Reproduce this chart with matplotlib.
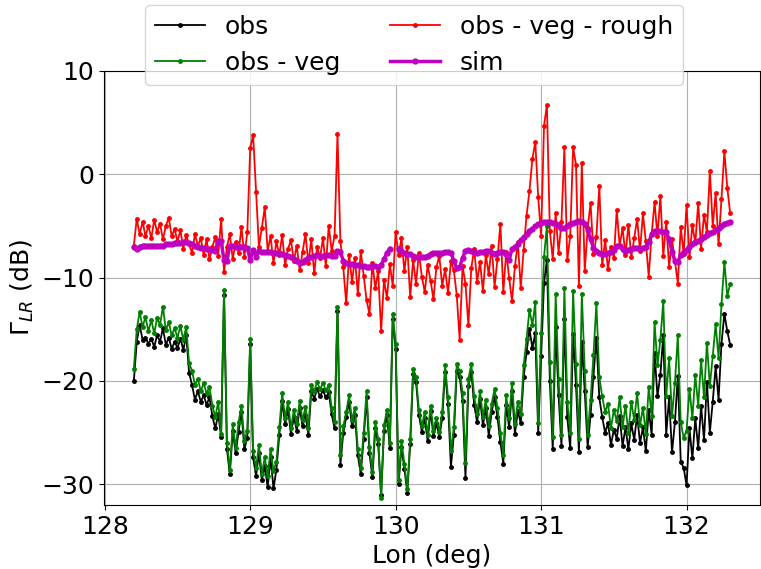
import numpy as np
import matplotlib.pyplot as plt

# longitude samples along the track
lon = np.linspace(128.20, 132.30, 206)

obs = [
    -20.0, -16.2, -14.6, -16.0, -15.8,
    -16.4, -15.9, -16.7, -15.6, -16.2,
    -14.9, -16.5, -15.8, -16.9, -16.2,
    -16.8, -15.9, -17.0, -15.6, -19.2,
    -20.4, -21.8, -21.0, -22.0, -21.4,
    -22.3, -21.6, -23.4, -24.6, -23.2,
    -25.4, -11.7, -26.6, -29.0, -24.8,
    -27.0, -24.9, -23.0, -26.6, -25.5,
    -16.4, -27.4, -29.2, -27.0, -29.6,
    -28.2, -30.3, -27.4, -30.4, -28.6,
    -25.2, -21.9, -24.2, -22.7, -25.1,
    -23.5, -24.8, -22.6, -24.4, -23.3,
    -25.2, -21.0, -21.7, -20.8, -21.5,
    -20.9, -21.6, -21.1, -23.2, -24.6,
    -13.2, -28.1, -25.0, -23.5, -22.0,
    -24.4, -23.3, -27.2, -29.0, -25.6,
    -21.6, -27.0, -29.3, -24.6, -26.1,
    -31.0, -24.8, -23.3, -26.5, -14.0,
    -16.9, -30.0, -26.4, -28.5, -30.8,
    -26.1, -19.3, -20.1, -23.3, -24.9,
    -23.6, -25.8, -22.9, -25.3, -24.1,
    -25.4, -23.6, -19.1, -22.2, -28.3,
    -25.2, -19.0, -19.6, -21.9, -29.4,
    -20.5, -19.1, -22.3, -24.0, -21.7,
    -24.3, -22.6, -25.3, -23.0, -21.6,
    -23.5, -25.9, -28.0, -22.3, -24.5,
    -21.0, -25.1, -22.9, -24.1, -19.6,
    -17.2, -15.0, -16.8, -15.4, -25.0,
    -17.6, -10.5, -8.3, -20.0, -26.6,
    -14.8, -21.4, -26.3, -14.0, -23.5,
    -26.5, -15.5, -20.4, -26.9, -16.2,
    -21.0, -26.4, -23.3, -19.6, -15.8,
    -21.6, -23.5, -25.0, -24.1, -26.2,
    -24.7, -25.6, -23.4, -26.3, -24.5,
    -26.6, -24.1, -25.7, -23.3, -26.0,
    -24.5, -26.8, -22.8, -25.2, -17.3,
    -21.5, -19.4, -15.6, -25.2, -21.6,
    -26.9, -24.0, -19.5, -27.8, -28.4,
    -30.1, -24.6, -27.5, -23.6, -26.5,
    -22.4, -25.7, -20.1, -25.0, -22.0,
    -18.6, -21.8, -16.4, -13.5, -15.2,
    -16.5,
]

obs_veg = [
    -18.8, -15.0, -13.3, -14.8, -13.8,
    -15.2, -14.1, -15.4, -13.9, -14.6,
    -12.8, -15.1, -14.3, -15.6, -14.9,
    -15.8, -14.7, -16.0, -14.8, -18.3,
    -19.0, -20.4, -19.8, -21.0, -20.2,
    -21.2, -20.6, -22.4, -23.5, -22.0,
    -25.1, -11.2, -26.0, -28.6, -24.2,
    -26.5, -24.0, -22.4, -25.8, -24.8,
    -15.9, -26.8, -28.4, -26.2, -29.0,
    -27.4, -29.2, -26.6, -28.7, -27.8,
    -24.5, -21.2, -23.6, -22.0, -24.6,
    -22.8, -24.2, -21.9, -23.8, -22.5,
    -24.6, -20.4, -21.0, -20.1, -20.8,
    -20.2, -20.9, -20.4, -22.6, -24.0,
    -12.8, -27.2, -24.4, -23.0, -21.4,
    -23.8, -22.6, -26.6, -28.4, -25.0,
    -21.0, -26.4, -28.8, -24.0, -25.6,
    -31.3, -24.3, -22.8, -26.0, -13.5,
    -16.4, -29.6, -25.8, -28.0, -30.5,
    -25.6, -18.8, -19.6, -22.8, -24.4,
    -23.0, -25.2, -22.4, -24.8, -23.6,
    -24.9, -23.0, -18.5, -21.6, -26.8,
    -24.5, -18.4, -19.0, -21.2, -27.9,
    -19.8, -18.4, -21.5, -23.2, -21.0,
    -23.5, -21.8, -24.4, -22.2, -20.8,
    -22.6, -25.0, -27.2, -21.4, -23.6,
    -20.2, -24.2, -22.0, -23.2, -18.5,
    -15.9, -13.1, -14.6, -12.4, -24.1,
    -15.4, -8.0, -5.0, -18.2, -25.4,
    -11.6, -19.8, -25.2, -11.0, -22.0,
    -25.0, -11.3, -18.4, -25.6, -11.6,
    -19.0, -25.2, -21.8, -17.5, -12.5,
    -19.6, -21.5, -23.0, -22.2, -24.6,
    -22.8, -23.9, -21.6, -24.5, -22.4,
    -25.0, -22.0, -23.8, -21.2, -24.3,
    -22.6, -25.1, -20.6, -23.4, -14.3,
    -18.5, -16.0, -12.3, -21.5, -17.8,
    -23.4, -20.2, -15.6, -24.0, -25.5,
    -24.8, -20.8, -23.6, -19.4, -22.4,
    -18.0, -21.6, -16.3, -20.5, -17.6,
    -14.5, -17.8, -12.6, -8.5, -11.8,
    -10.6,
]

obs_veg_rough = [
    -6.9, -4.3, -5.8, -4.6, -6.0,
    -5.0, -6.2, -4.4, -5.6, -4.8,
    -6.3, -5.0, -4.2, -6.0, -5.3,
    -6.5, -5.4, -7.2, -5.9, -6.8,
    -7.6, -5.8, -6.9, -6.2, -7.8,
    -6.3, -8.2, -7.0, -6.1, -7.9,
    -4.3, -9.5, -7.0, -5.8, -8.2,
    -6.6, -7.6, -5.1, -8.0, -5.6,
    2.5, 3.8, -1.7, -7.0, -5.2,
    -3.2, -7.4, -6.0, -8.6, -6.5,
    -7.8, -5.9, -8.8, -7.2, -6.4,
    -8.4, -6.9, -9.3, -7.5, -5.8,
    -8.6, -6.3, -9.6, -7.0, -8.1,
    -6.2, -8.9, -5.0, -7.4, -6.0,
    3.9, -6.5, -9.0, -12.5, -7.8,
    -10.4, -8.1, -11.6, -7.4, -9.8,
    -12.2, -13.5, -8.6, -11.0, -9.4,
    -15.2, -10.2, -12.0, -8.7, -10.8,
    -5.6, -7.8, -6.2, -9.4, -7.0,
    -11.9, -8.3, -10.6, -7.6, -9.9,
    -11.4, -8.8, -10.3, -12.1, -9.0,
    -7.9, -10.8, -9.2, -11.5, -8.4,
    -9.3, -11.7, -16.0, -8.9, -10.6,
    -14.6, -9.1, -7.2, -10.4, -8.5,
    -11.3, -7.8, -9.7, -6.9, -10.9,
    -8.2, -4.8, -11.4, -7.5, -10.0,
    -12.3, -8.9, -6.6, -11.0, -7.3,
    -4.0, -1.6, 1.5, 3.1, -2.2,
    -6.0, 4.7, 6.7, -5.5, -8.2,
    -3.8, -7.6, -4.6, 2.6, -8.3,
    -6.0, 2.6, 0.9, -10.8, 1.1,
    -9.4, -5.2, -2.8, -7.7, -6.1,
    -1.1, -8.8, -6.4, -9.2, -7.0,
    -8.1, -3.5, -6.9, -5.2, -7.8,
    -4.9, -8.0, -6.2, -4.3, -7.4,
    -3.8, -6.5, -9.9, -5.8, -2.7,
    -6.0, -2.1, -7.9, -4.6, -9.0,
    -6.3, -8.4, -10.6, -5.1, -7.7,
    -3.0, -8.0, -4.9, -6.7, -2.8,
    -7.2, -3.9, -5.6, 0.3, -5.0,
    -1.8, -6.8, -2.4, 2.2, -1.3,
    -3.8,
]

sim = [
    -7.0, -7.2, -7.0, -6.9, -6.9,
    -6.9, -6.9, -6.9, -6.9, -6.9,
    -6.9, -6.8, -6.8, -6.8, -6.7,
    -6.7, -6.7, -6.6, -6.6, -6.7,
    -6.8, -6.9, -7.0, -7.1, -7.1,
    -7.2, -7.2, -7.3, -7.4, -6.5,
    -6.5, -8.3, -8.4, -6.9, -6.9,
    -7.0, -7.0, -7.0, -7.0, -7.1,
    -8.3, -7.3, -8.0, -7.4, -7.5,
    -7.5, -7.5, -7.5, -7.6, -7.6,
    -7.6, -7.7, -7.8, -7.9, -8.0,
    -8.2, -8.4, -8.6, -8.5, -8.3,
    -8.1, -8.0, -7.9, -7.8, -7.9,
    -7.9, -7.8, -7.8, -7.9, -7.9,
    -7.4, -7.5, -8.4, -8.6, -8.7,
    -8.7, -8.8, -8.8, -8.9, -8.9,
    -9.0, -9.0, -8.9, -8.9, -9.0,
    -8.8, -8.2, -7.6, -7.2, np.nan,
    np.nan, -7.2, -7.4, -7.6, -7.7,
    -7.7, -7.9, -8.0, -8.0, -8.0,
    -8.0, -7.9, -7.7, -7.6, -7.6,
    -7.6, -7.6, -7.5, -7.5, -7.6,
    -8.4, -9.1, -9.0, -8.1, -7.4,
    -7.3, -7.4, -7.5, -7.6, -7.5,
    -7.5, -7.4, -7.4, -7.6, -7.7,
    -7.6, -7.5, -7.5, -7.7, -8.3,
    -7.2, -7.0, -6.8, -6.4, -6.1,
    -5.8, -5.5, -5.3, -5.0, -4.8,
    -4.7, -4.6, -4.6, -4.6, -4.7,
    -4.8, -5.0, -5.2, -5.2, -5.0,
    -4.8, -4.7, -4.6, -4.5, -4.6,
    -4.8, -5.4, -6.3, -7.1, -7.4,
    -7.6, -7.7, -7.7, -7.6, -7.5,
    -7.3, -6.9, -6.9, -7.2, -7.4,
    -7.3, -7.2, -7.1, -7.1, -7.2,
    -7.1, -7.0, -6.6, -5.8, -5.5,
    -5.5, -5.5, -5.6, -5.6, -6.3,
    -7.5, -8.4, -8.5, -7.8, -7.5,
    -7.3, -7.0, -6.8, -6.6, -6.5,
    -6.3, -6.1, -5.9, -5.7, -5.6,
    -5.4, -5.2, -5.0, -4.8, -4.7,
    -4.6,
]

plt.rcParams['font.size'] = 18

fig = plt.figure(figsize=(7.61, 5.69), dpi=100)
ax = fig.add_axes([0.1367, 0.1125, 0.862, 0.763])

ax.plot(lon, obs, '.-', color='k', lw=1.3, ms=5, label='obs')
ax.plot(lon, obs_veg, '.-', color='green', lw=1.3, ms=5, label='obs - veg')
ax.plot(lon, obs_veg_rough, '.-', color='red', lw=1.3, ms=5, label='obs - veg - rough')
ax.plot(lon, sim, '.-', color='m', lw=2.5, ms=7, label='sim')

ax.set_ylim(-32, 10)
ax.set_xticks([128, 129, 130, 131, 132])
ax.set_yticks([-30, -20, -10, 0, 10])
ax.grid(True)
ax.set_xlabel('Lon (deg)')
ax.set_ylabel(r'$\Gamma_{LR}$ (dB)')

fig.legend(ncol=2, loc='upper center', bbox_to_anchor=(0.544, 0.992),
           borderaxespad=0, columnspacing=2.0)

fig.savefig('out.png', dpi=100)
